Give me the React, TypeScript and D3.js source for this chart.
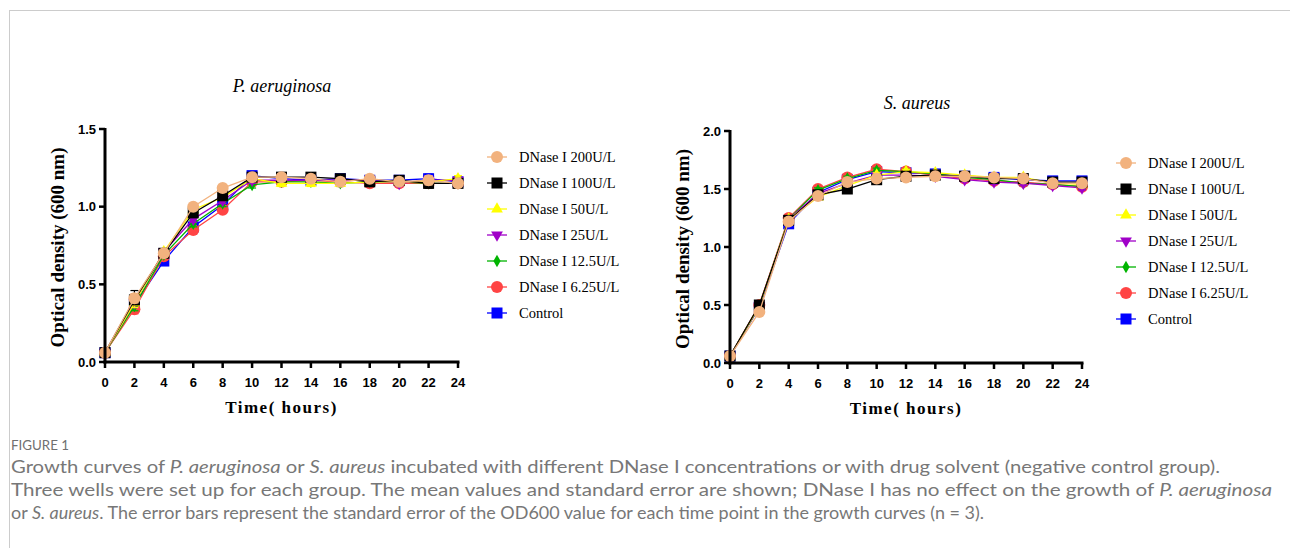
import React from "react";
import * as d3 from "d3";

const hours = [0, 2, 4, 6, 8, 10, 12, 14, 16, 18, 20, 22, 24];
const seriesNames = ["DNase I 200U/L", "DNase I 100U/L", "DNase I 50U/L", "DNase I 25U/L", "DNase I 12.5U/L", "DNase I 6.25U/L", "Control"];
const seriesColors = ["#F2B27E", "#000000", "#FFFF00", "#A000C8", "#00B400", "#FF4444", "#0000FF"];
const seriesShapes = ["circle", "square", "triangle", "triangleDown", "diamond", "circle", "square"];

// P. aeruginosa
const paDN200 = [0.06, 0.41, 0.70, 1.00, 1.12, 1.19, 1.19, 1.18, 1.16, 1.18, 1.16, 1.17, 1.15];
const paDN100 = [0.06, 0.40, 0.70, 0.96, 1.07, 1.19, 1.19, 1.19, 1.18, 1.16, 1.17, 1.15, 1.15];
const paDN50 = [0.06, 0.38, 0.71, 0.98, 1.06, 1.18, 1.15, 1.15, 1.15, 1.16, 1.16, 1.16, 1.18];
const paDN25 = [0.06, 0.38, 0.71, 0.92, 1.04, 1.17, 1.17, 1.17, 1.17, 1.17, 1.15, 1.17, 1.17];
const paDN12 = [0.06, 0.36, 0.69, 0.89, 1.02, 1.14, 1.16, 1.16, 1.15, 1.16, 1.16, 1.15, 1.15];
const paDN6 = [0.06, 0.34, 0.68, 0.85, 0.98, 1.16, 1.16, 1.17, 1.16, 1.15, 1.15, 1.15, 1.15];
const paCtrl = [0.06, 0.37, 0.65, 0.87, 1.01, 1.20, 1.18, 1.17, 1.18, 1.17, 1.17, 1.18, 1.16];
const paErr = [0.01, 0.03, 0.02, 0.02, 0.02, 0.02, 0.02, 0.02, 0.02, 0.02, 0.02, 0.03, 0.02];

// S. aureus
const saDN200 = [0.06, 0.44, 1.22, 1.44, 1.56, 1.59, 1.60, 1.61, 1.61, 1.60, 1.59, 1.55, 1.55];
const saDN100 = [0.06, 0.50, 1.23, 1.45, 1.50, 1.58, 1.61, 1.62, 1.61, 1.59, 1.59, 1.56, 1.56];
const saDN50 = [0.06, 0.49, 1.24, 1.43, 1.53, 1.62, 1.65, 1.64, 1.62, 1.60, 1.60, 1.55, 1.54];
const saDN25 = [0.06, 0.49, 1.24, 1.46, 1.55, 1.62, 1.62, 1.61, 1.58, 1.56, 1.55, 1.53, 1.51];
const saDN12 = [0.06, 0.49, 1.24, 1.49, 1.59, 1.66, 1.65, 1.63, 1.60, 1.58, 1.55, 1.54, 1.52];
const saDN6 = [0.06, 0.50, 1.25, 1.50, 1.60, 1.67, 1.65, 1.62, 1.59, 1.57, 1.56, 1.54, 1.52];
const saCtrl = [0.06, 0.48, 1.20, 1.47, 1.58, 1.65, 1.64, 1.63, 1.61, 1.60, 1.58, 1.57, 1.57];
const saErr = [0.01, 0.02, 0.02, 0.02, 0.02, 0.02, 0.02, 0.02, 0.02, 0.02, 0.02, 0.02, 0.02];

const paSeries = [paDN200, paDN100, paDN50, paDN25, paDN12, paDN6, paCtrl];
const saSeries = [saDN200, saDN100, saDN50, saDN25, saDN12, saDN6, saCtrl];
// extra error extent for 100U/L at 2 h in P. aeruginosa
const paErrBlack = [0.01, 0.06, 0.02, 0.02, 0.02, 0.02, 0.02, 0.02, 0.02, 0.02, 0.02, 0.03, 0.02];

const paYTicks = [0.0, 0.5, 1.0, 1.5];
const saYTicks = [0.0, 0.5, 1.0, 1.5, 2.0];

function Marker({ shape, x, y, color }: any) {
  if (shape === "circle") return <circle cx={x} cy={y} r={6} fill={color} />;
  if (shape === "square") return <rect x={x - 5.5} y={y - 5.5} width={11} height={11} fill={color} />;
  if (shape === "triangle") {
    const p = d3.symbol(d3.symbolTriangle, 60)();
    return <path d={p!} transform={`translate(${x},${y})`} fill={color} />;
  }
  if (shape === "triangleDown") {
    const p = d3.symbol(d3.symbolTriangle, 60)();
    return <path d={p!} transform={`translate(${x},${y}) rotate(180)`} fill={color} />;
  }
  const p = d3.symbol(d3.symbolDiamond, 45)();
  return <path d={p!} transform={`translate(${x},${y})`} fill={color} />;
}

function Panel({ x0, x1, yTop, yBottom, yMax, yTicks, series, errs, errsBlack, title, titleX, titleY, legendX, legendY }: any) {
  const x = d3.scaleLinear().domain([0, 24]).range([x0, x1]);
  const y = d3.scaleLinear().domain([0, yMax]).range([yBottom, yTop]);
  const line = d3.line<number>().x((_, i) => x(hours[i])).y((v) => y(v));
  const order = [6, 5, 4, 3, 2, 1, 0];
  const cx = (x0 + x1) / 2;
  return (
    <g>
      <text x={titleX} y={titleY} textAnchor="middle" fontFamily="Liberation Serif, Times New Roman, serif" fontStyle="italic" fontSize={18}>{title}</text>
      {order.map((k) => {
        const e = k === 1 && errsBlack ? errsBlack : errs;
        return (
          <g key={k}>
            <path d={line(series[k])!} fill="none" stroke={seriesColors[k]} strokeWidth={1.3} />
            {series[k].map((v: number, i: number) => (
              <g key={i}>
                <line x1={x(hours[i])} x2={x(hours[i])} y1={y(v + e[i])} y2={y(v - errs[i])} stroke={seriesColors[k]} strokeWidth={1.2} />
                <line x1={x(hours[i]) - 4} x2={x(hours[i]) + 4} y1={y(v + e[i])} y2={y(v + e[i])} stroke={seriesColors[k]} strokeWidth={1.2} />
                <line x1={x(hours[i]) - 4} x2={x(hours[i]) + 4} y1={y(v - errs[i])} y2={y(v - errs[i])} stroke={seriesColors[k]} strokeWidth={1.2} />
                <Marker shape={seriesShapes[k]} x={x(hours[i])} y={y(v)} color={seriesColors[k]} />
              </g>
            ))}
          </g>
        );
      })}
      <line x1={x0} x2={x0} y1={yTop - 1} y2={yBottom + 1.5} stroke="#000" strokeWidth={3} />
      <line x1={x0 - 1.5} x2={x1 + 1.5} y1={yBottom} y2={yBottom} stroke="#000" strokeWidth={3} />
      {yTicks.map((t: number) => (
        <g key={t}>
          <line x1={x0 - 6} x2={x0} y1={y(t)} y2={y(t)} stroke="#000" strokeWidth={2.5} />
          <text x={x0 - 9} y={y(t) + 4.5} textAnchor="end" fontFamily="Liberation Sans, Arial, sans-serif" fontWeight="bold" fontSize={13}>{t.toFixed(1)}</text>
        </g>
      ))}
      {hours.map((h) => (
        <g key={h}>
          <line x1={x(h)} x2={x(h)} y1={yBottom} y2={yBottom + 6} stroke="#000" strokeWidth={2.5} />
          <text x={x(h)} y={yBottom + 25} textAnchor="middle" fontFamily="Liberation Sans, Arial, sans-serif" fontWeight="bold" fontSize={13}>{h}</text>
        </g>
      ))}
      <text x={cx} y={yBottom + 51} textAnchor="middle" fontFamily="Liberation Serif, Times New Roman, serif" fontWeight="bold" fontSize={17} letterSpacing={1.5}>Time( hours)</text>
      <text transform={`translate(${x0 - 41},${(yTop + yBottom) / 2 + 2}) rotate(-90)`} textAnchor="middle" fontFamily="Liberation Serif, Times New Roman, serif" fontWeight="bold" fontSize={19}>Optical density (600 nm)</text>
      {seriesNames.map((n, k) => (
        <g key={n} transform={`translate(${legendX},${legendY + k * 26})`}>
          <line x1={-10} x2={10} y1={0} y2={0} stroke={seriesColors[k]} strokeWidth={1.3} />
          <Marker shape={seriesShapes[k]} x={0} y={0} color={seriesColors[k]} />
          <text x={22} y={5} fontFamily="Liberation Serif, Times New Roman, serif" fontSize={14.5}>{n}</text>
        </g>
      ))}
    </g>
  );
}

export default function App() {
  const capFont = "Lato, 'Open Sans', sans-serif";
  return (
    <svg width={1290} height={548} style={{ position: "absolute", left: 0, top: 0, background: "#fff" }}>
      <rect width={1290} height={548} fill="#fff" />
      <line x1={9.5} x2={1290} y1={10.5} y2={10.5} stroke="#cccccc" strokeWidth={1} />
      <line x1={9.5} x2={9.5} y1={10} y2={548} stroke="#cccccc" strokeWidth={1} />
      <Panel x0={105} x1={458} yTop={129} yBottom={362} yMax={1.5} yTicks={paYTicks} series={paSeries} errs={paErr} errsBlack={paErrBlack}
        title="P. aeruginosa" titleX={282} titleY={92} legendX={497} legendY={157} />
      <Panel x0={730} x1={1082} yTop={131} yBottom={363} yMax={2.0} yTicks={saYTicks} series={saSeries} errs={saErr}
        title="S. aureus" titleX={917} titleY={109} legendX={1126} legendY={163} />
      <text x={11} y={450} fontFamily={capFont} fontSize={14} fill="#707070" textLength={58} lengthAdjust="spacingAndGlyphs">FIGURE 1</text>
      <g fontFamily={capFont} fontSize={18} fill="#777777">
        <text x={11} y={473} textLength={1209} lengthAdjust="spacingAndGlyphs">Growth curves of <tspan fontStyle="italic">P. aeruginosa</tspan> or <tspan fontStyle="italic">S. aureus</tspan> incubated with different DNase I concentrations or with drug solvent (negative control group).</text>
        <text x={11} y={496} textLength={1261} lengthAdjust="spacingAndGlyphs">Three wells were set up for each group. The mean values and standard error are shown; DNase I has no effect on the growth of <tspan fontStyle="italic">P. aeruginosa</tspan></text>
        <text x={11} y={519} textLength={973} lengthAdjust="spacingAndGlyphs">or <tspan fontStyle="italic">S. aureus</tspan>. The error bars represent the standard error of the OD600 value for each time point in the growth curves (n = 3).</text>
      </g>
    </svg>
  );
}
